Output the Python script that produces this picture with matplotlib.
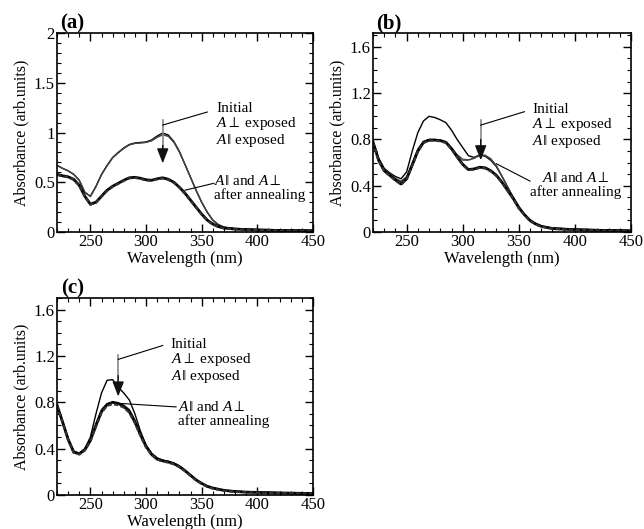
import matplotlib
matplotlib.use("Agg")
import matplotlib.pyplot as plt
from matplotlib.ticker import MultipleLocator, FuncFormatter

plt.rcParams["font.family"] = ["Liberation Serif", "DejaVu Serif"]
plt.rcParams["mathtext.fontset"] = "custom"
plt.rcParams["mathtext.rm"] = "Liberation Serif"
plt.rcParams["mathtext.it"] = "Liberation Serif:italic"
plt.rcParams["mathtext.fallback"] = "stix"

# wavelength grid (nm)
wl = [220, 225, 230, 235, 240, 245, 250, 255, 260, 265, 270, 275, 280, 285,
      290, 295, 300, 305, 310, 315, 320, 325, 330, 335, 340, 345, 350, 355,
      360, 365, 370, 380, 390, 400, 420, 450]

# panel (a)
a_initial = [0.67, 0.64, 0.615, 0.58, 0.52, 0.40, 0.36, 0.46, 0.58, 0.67, 0.75, 0.80,
             0.845, 0.88, 0.895, 0.90, 0.905, 0.925, 0.965, 0.995, 0.975, 0.91,
             0.81, 0.68, 0.55, 0.42, 0.30, 0.20, 0.12, 0.075, 0.05, 0.035, 0.03,
             0.027, 0.022, 0.018]
a_perp_exp = [0.67, 0.64, 0.615, 0.58, 0.52, 0.40, 0.355, 0.455, 0.575, 0.665, 0.745, 0.795,
              0.84, 0.875, 0.89, 0.895, 0.90, 0.915, 0.95, 0.975, 0.96, 0.90,
              0.80, 0.675, 0.545, 0.415, 0.295, 0.195, 0.115, 0.07, 0.045, 0.03, 0.026,
              0.024, 0.02, 0.016]
a_par_exp = [0.67, 0.64, 0.615, 0.58, 0.52, 0.40, 0.355, 0.455, 0.575, 0.665, 0.745, 0.795,
             0.84, 0.875, 0.89, 0.895, 0.90, 0.92, 0.955, 0.985, 0.965, 0.905,
             0.805, 0.68, 0.55, 0.42, 0.30, 0.20, 0.12, 0.07, 0.045, 0.03, 0.026,
             0.024, 0.02, 0.016]
a_par_ann = [0.58, 0.565, 0.555, 0.53, 0.47, 0.36, 0.28, 0.30, 0.36, 0.42, 0.46, 0.49,
             0.52, 0.545, 0.55, 0.54, 0.525, 0.52, 0.535, 0.545, 0.53, 0.50,
             0.45, 0.39, 0.32, 0.25, 0.18, 0.12, 0.08, 0.055, 0.04, 0.03, 0.025,
             0.02, 0.016, 0.012]
a_perp_ann = [0.575, 0.56, 0.55, 0.525, 0.465, 0.355, 0.275, 0.295, 0.355, 0.415, 0.455, 0.485,
              0.515, 0.54, 0.545, 0.535, 0.52, 0.515, 0.53, 0.54, 0.525, 0.495,
              0.445, 0.385, 0.315, 0.245, 0.175, 0.115, 0.075, 0.05, 0.037, 0.028, 0.023,
              0.019, 0.015, 0.011]

# panel (b)
b_initial = [0.78, 0.64, 0.55, 0.51, 0.48, 0.46, 0.52, 0.70, 0.86, 0.96, 1.0, 0.99,
             0.97, 0.945, 0.88, 0.80, 0.73, 0.66, 0.645, 0.665, 0.655, 0.62,
             0.565, 0.48, 0.39, 0.30, 0.22, 0.15, 0.10, 0.07, 0.05, 0.035, 0.03,
             0.025, 0.02, 0.015]
b_perp_exp = [0.78, 0.63, 0.54, 0.50, 0.465, 0.44, 0.48, 0.60, 0.72, 0.785, 0.80, 0.80,
              0.795, 0.78, 0.73, 0.67, 0.63, 0.625, 0.64, 0.665, 0.665, 0.635,
              0.575, 0.485, 0.39, 0.30, 0.22, 0.15, 0.10, 0.07, 0.05, 0.033, 0.028,
              0.023, 0.018, 0.013]
b_par_exp = [0.78, 0.63, 0.54, 0.50, 0.46, 0.435, 0.475, 0.595, 0.715, 0.78, 0.80, 0.80,
             0.795, 0.78, 0.725, 0.665, 0.62, 0.62, 0.635, 0.66, 0.66, 0.63,
             0.57, 0.48, 0.385, 0.295, 0.215, 0.15, 0.10, 0.07, 0.05, 0.033, 0.028,
             0.023, 0.018, 0.013]
b_par_ann = [0.78, 0.62, 0.53, 0.49, 0.45, 0.415, 0.46, 0.58, 0.70, 0.775, 0.795, 0.795,
             0.79, 0.775, 0.72, 0.65, 0.585, 0.54, 0.545, 0.56, 0.555, 0.53,
             0.49, 0.43, 0.36, 0.29, 0.21, 0.15, 0.10, 0.07, 0.05, 0.03, 0.025,
             0.02, 0.015, 0.01]
b_perp_ann = [0.775, 0.615, 0.525, 0.485, 0.445, 0.41, 0.455, 0.575, 0.695, 0.77, 0.79, 0.79,
              0.785, 0.77, 0.715, 0.645, 0.58, 0.535, 0.54, 0.555, 0.55, 0.525,
              0.485, 0.425, 0.355, 0.285, 0.205, 0.145, 0.095, 0.065, 0.045, 0.028, 0.023,
              0.018, 0.013, 0.009]

# panel (c)
c_initial = [0.775, 0.64, 0.49, 0.38, 0.36, 0.40, 0.50, 0.70, 0.88, 0.99, 0.995, 0.93,
             0.88, 0.82, 0.70, 0.55, 0.43, 0.36, 0.32, 0.30, 0.29, 0.275,
             0.25, 0.21, 0.17, 0.13, 0.10, 0.075, 0.06, 0.05, 0.04, 0.032, 0.028,
             0.025, 0.02, 0.015]
c_perp_exp = [0.775, 0.635, 0.485, 0.375, 0.36, 0.395, 0.48, 0.62, 0.74, 0.79, 0.80, 0.795,
              0.775, 0.74, 0.65, 0.53, 0.43, 0.36, 0.32, 0.30, 0.29, 0.275,
              0.25, 0.21, 0.17, 0.13, 0.10, 0.075, 0.06, 0.05, 0.04, 0.032, 0.028,
              0.025, 0.02, 0.015]
c_par_exp = [0.775, 0.63, 0.48, 0.37, 0.355, 0.39, 0.475, 0.61, 0.73, 0.785, 0.80, 0.795,
             0.77, 0.73, 0.64, 0.525, 0.425, 0.355, 0.315, 0.30, 0.29, 0.275,
             0.25, 0.21, 0.17, 0.13, 0.10, 0.075, 0.06, 0.05, 0.04, 0.031, 0.027,
             0.024, 0.019, 0.014]
c_par_ann = [0.775, 0.63, 0.48, 0.37, 0.355, 0.39, 0.47, 0.60, 0.72, 0.78, 0.80, 0.79,
             0.765, 0.72, 0.63, 0.52, 0.42, 0.35, 0.31, 0.295, 0.285, 0.27,
             0.245, 0.21, 0.17, 0.13, 0.10, 0.075, 0.06, 0.05, 0.04, 0.03, 0.025,
             0.022, 0.018, 0.012]
c_perp_ann = [0.77, 0.625, 0.475, 0.365, 0.35, 0.385, 0.465, 0.59, 0.71, 0.77, 0.785, 0.775,
              0.755, 0.71, 0.62, 0.51, 0.41, 0.345, 0.305, 0.29, 0.28, 0.265,
              0.24, 0.205, 0.165, 0.125, 0.095, 0.07, 0.055, 0.045, 0.036, 0.028, 0.023,
              0.02, 0.016, 0.011]

label_exp = "Initial\n$A\\perp$ exposed\n$A\\Vert$ exposed"
label_ann = "$A\\Vert$ and $A\\perp$\nafter annealing"

panels = [
    dict(pos=[0.0885, 0.5614, 0.3975, 0.3762], letter="(a)",
         curves=(a_initial, a_perp_exp, a_par_exp, a_par_ann, a_perp_ann),
         ylim=2.0, ymajor=0.5,
         arrow_x=315, arrow_top=1.13, arrow_tip=0.69,
         lead1=((315, 1.075), (355, 1.206)), txt1=(363, 1.07, "left"),
         lead2=((335, 0.42), (361, 0.49)), txt2=(361, 0.445, "left")),
    dict(pos=[0.5792, 0.5614, 0.4006, 0.3762], letter="(b)",
         curves=(b_initial, b_perp_exp, b_par_exp, b_par_ann, b_perp_ann),
         ylim=1.72, ymajor=0.4,
         arrow_x=316, arrow_top=0.97, arrow_tip=0.62,
         lead1=((316, 0.924), (355, 1.04)), txt1=(362, 0.915, "left"),
         lead2=((330, 0.59), (360, 0.44)), txt2=(401, 0.405, "center")),
    dict(pos=[0.0885, 0.0643, 0.3975, 0.3724], letter="(c)",
         curves=(c_initial, c_perp_exp, c_par_exp, c_par_ann, c_perp_ann),
         ylim=1.70, ymajor=0.4,
         arrow_x=275, arrow_top=1.21, arrow_tip=0.85,
         lead1=((275, 1.17), (315, 1.29)), txt1=(322, 1.155, "left"),
         lead2=((277, 0.79), (327, 0.76)), txt2=(329, 0.70, "left")),
]

fig = plt.figure(figsize=(6.44, 5.29), dpi=100)

for p in panels:
    ax = fig.add_axes(p["pos"])
    ini, pexp, parexp, parann, perpann = p["curves"]
    ax.plot(wl, ini, color="black", lw=1.0)
    ax.plot(wl, pexp, color="#444444", lw=0.8)
    ax.plot(wl, parexp, color="#444444", lw=0.8)
    ax.plot(wl, parann, color="black", lw=2.0)
    ax.plot(wl, perpann, color="#333333", lw=1.6, ls=(0, (2, 1)))

    ax.set_xlim(220, 450)
    ax.set_ylim(0, p["ylim"])
    ax.xaxis.set_major_locator(MultipleLocator(50))
    ax.xaxis.set_minor_locator(MultipleLocator(10))
    ax.yaxis.set_major_locator(MultipleLocator(p["ymajor"]))
    ax.yaxis.set_minor_locator(MultipleLocator(0.1))
    ax.yaxis.set_major_formatter(FuncFormatter(lambda v, pos: "%g" % round(v, 2)))
    ax.tick_params(which="both", direction="in", top=True, right=True, labelsize=12, pad=1.5)
    ax.tick_params(which="major", length=6, width=1.0)
    ax.tick_params(which="minor", length=3, width=0.8)
    for s in ax.spines.values():
        s.set_linewidth(1.2)
    ax.set_xlabel("Wavelength (nm)", fontsize=12, labelpad=0.5)
    ax.set_ylabel("Absorbance (arb.units)", fontsize=11.5, labelpad=3)
    ax.text(0.06, 1.0, p["letter"], transform=ax.transAxes, fontsize=15,
            fontweight="bold", va="bottom", ha="center")

    # arrow: gray shaft, black head
    ax.plot([p["arrow_x"], p["arrow_x"]], [p["arrow_top"], p["arrow_tip"] + 0.1],
            color="#888888", lw=1.2)
    ax.annotate("", xy=(p["arrow_x"], p["arrow_tip"]),
                xytext=(p["arrow_x"], p["arrow_tip"] + 0.18),
                arrowprops=dict(arrowstyle="-|>,head_length=0.9,head_width=0.35",
                                color="#111111", lw=1.0, shrinkA=0, shrinkB=0))

    (x0, y0), (x1, y1) = p["lead1"]
    ax.plot([x0, x1], [y0, y1], color="black", lw=0.8)
    tx, ty, ha = p["txt1"]
    ax.text(tx, ty, label_exp, fontsize=11, ha=ha, va="center", linespacing=1.0)

    (x0, y0), (x1, y1) = p["lead2"]
    ax.plot([x0, x1], [y0, y1], color="black", lw=0.8)
    tx, ty, ha = p["txt2"]
    ax.text(tx, ty, label_ann, fontsize=11, ha=ha, va="center", linespacing=1.0,
            multialignment=ha)

fig.savefig("out.png", dpi=100)
